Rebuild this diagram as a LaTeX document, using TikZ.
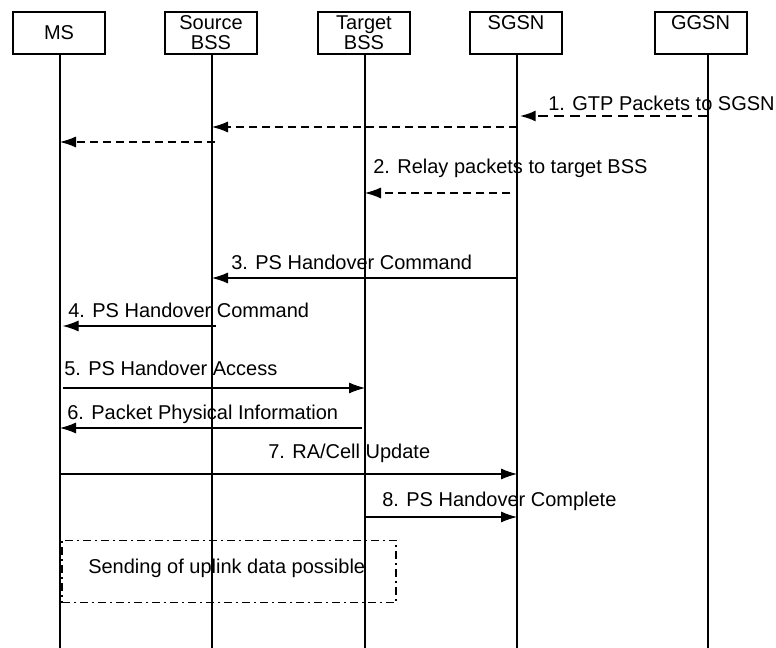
\documentclass[tikz,border=0pt]{standalone}
\usepackage{fontspec}
\setmainfont{Liberation Sans}
\usepackage{tikz}
\usetikzlibrary{shapes,arrows,arrows.meta}
\usetikzlibrary{positioning}
\tikzstyle{entity} = [rectangle, draw, line width=1.5pt, minimum width=69pt,
    minimum height=31.5pt, inner sep=1pt, align=center]
\tikzstyle{lifeline} = [draw, line width=1.2pt]
\tikzstyle{msg} = [anchor=west, inner sep=0pt]
\tikzstyle{line} = [draw, line width=0.8pt, -{Latex[length=12pt,width=8.3pt]}]
\tikzstyle{dline} = [line, dash pattern=on 6pt off 3.75pt]
\tikzstyle{tline} = [line, line width=1.7pt, dash pattern=on 7.5pt off 4.5pt]

\begin{document}
\begin{tikzpicture}[x=0.75pt,y=-0.75pt,font=\fontsize{15}{15}\selectfont]
    \useasboundingbox (0,0) rectangle (776,648);
    % Place nodes
    \node [entity] (msbox) at (59,33) {MS};
    \node [entity] (srcbox) at (211,33) {Source\\BSS};
    \node [entity] (tgtbox) at (364,33) {Target\\BSS};
    \node [entity] (sgbox) at (516,33) {SGSN\\\phantom{BSS}};
    \node [entity] (ggbox) at (700.5,33) {GGSN\\\phantom{BSS}};

    % lifelines
    \coordinate (ms) at (60,54);
    \coordinate (src) at (212,54);
    \coordinate (tgt) at (365,54);
    \coordinate (sg) at (517,54);
    \coordinate (gg) at (708,54);
    \coordinate (bot) at (0,648);
    \foreach \l in {ms,src,tgt,sg,gg}
        \path [lifeline] (\l) -- (\l |- bot);

    % message levels
    \coordinate (m1) at (0,116);
    \coordinate (m1b) at (0,127);
    \coordinate (m1c) at (0,142);
    \coordinate (m2) at (0,193);
    \coordinate (m3) at (0,278);
    \coordinate (m4) at (0,326);
    \coordinate (m5) at (0,388);
    \coordinate (m6) at (0,428);
    \coordinate (m7) at (0,474);
    \coordinate (m8) at (0,517);

    % labels
    \node [msg] (l1) at (548,103) {1. GTP Packets to SGSN};
    \node [msg] (l2) at (373,168) {2. Relay packets to target BSS};
    \node [msg] (l3) at (231,262) {3. PS Handover Command};
    \node [msg] (l4) at (68,310) {4. PS Handover Command};
    \node [msg] (l5) at (64,368) {5. PS Handover Access};
    \node [msg] (l6) at (67,414) {6. Packet Physical Information};
    \node [msg] (l7) at (268,453) {7. RA/Cell Update};
    \node [msg] (l8) at (382,501) {8. PS Handover Complete};

    % Draw edges
    \path [tline] (gg |- m1) -- ([xshift=2pt]sg |- m1);
    \path [dline] (sg |- m1b) -- (src |- m1b);
    \path [dline] ([xshift=2pt]src |- m1c) -- (ms |- m1c);
    \path [dline, shorten <=5pt] (sg |- m2) -- (tgt |- m2);
    \path [line] (sg |- m3) -- (src |- m3);
    \path [line] ([xshift=3pt]src |- m4) -- ([xshift=2pt]ms |- m4);
    \path [line] ([xshift=2pt]ms |- m5) -- (tgt |- m5);
    \path [line] ([xshift=-2pt]tgt |- m6) -- (ms |- m6);
    \path [line] (ms |- m7) -- (sg |- m7);
    \path [line] (tgt |- m8) -- (sg |- m8);

    % uplink box
    \node [draw, line width=0.9pt, dash pattern=on 6pt off 3pt on 1.5pt off 3pt,
        minimum width=250.5pt, minimum height=47pt, inner sep=0pt] (upl) at (229,571.5) {};
    \node [msg] (ultext) at (88,568) {Sending of uplink data possible};
\end{tikzpicture}
\end{document}
